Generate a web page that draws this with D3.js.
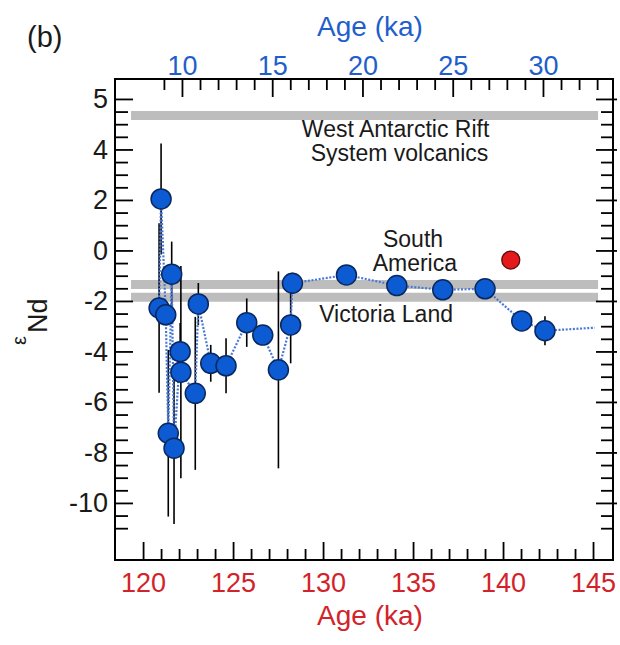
<!DOCTYPE html>
<html>
<head>
<meta charset="utf-8">
<script src="https://cdn.jsdelivr.net/npm/d3@7"></script>
<style>
  html, body { margin: 0; padding: 0; background: #ffffff; }
  svg { display: block; font-family: "Liberation Sans", Arial, Helvetica, sans-serif; }
</style>
</head>
<body>
<svg id="chart" width="620" height="645"></svg>
<script>
// ---------------- DATA ----------------
const ages   = [120.89, 121.0, 121.26, 121.4, 121.59, 121.72, 122.06, 122.1, 122.9, 123.07, 123.76, 124.61, 125.76, 126.65, 127.52, 128.2, 128.3, 131.3, 134.1, 136.65, 139.0, 141.04, 142.33];
const eNd    = [-2.28, 2.04, -2.55, -7.24, -0.94, -7.83, -4.01, -4.82, -5.66, -2.12, -4.47, -4.57, -2.86, -3.35, -4.73, -2.95, -1.30, -0.97, -1.39, -1.56, -1.52, -2.79, -3.18];
const eNdErr = [3.36, 2.2, 0, 3.3, 1.29, 3.0, 1.14, 4.2, 3.03, 0.83, 0.73, 1.09, 0.96, 0, 3.9, 1.52, 0.42, 0, 0, 0, 0, 0, 0.57];
const lineTailAge = [145.1];
const lineTailENd = [-3.06];

const southAmericaAge = [140.43];
const southAmericaENd = [-0.38];

const bandLevels = [5.34, -1.35, -1.85];
const bandAgeRange = [119.33, 145.28];

const bottomDomain = [118.44, 146.11];
const topDomain = [6.29, 33.88];
const yDomain = [-12.26, 6.79];

const bottomMajorTicks = [120, 125, 130, 135, 140, 145];
const bottomMinorTicks = d3.range(121, 145, 1).filter(v => v % 5 !== 0);
const topMajorTicks = [10, 15, 20, 25, 30];
const topMinorTicks = d3.range(9, 34, 1).filter(v => v % 5 !== 0);
const yTickValues = [-10, -8, -6, -4, -2, 0, 2, 4, 6];
const yTickLabels = ["-10", "-8", "-6", "-4", "-2", "0", "2", "4", "5"];
const yMinorTicks = d3.range(-11, 6, 0.5).filter(v => v % 2 !== 0);

const annotations = [
  {text: "West Antarctic Rift", age: 134.03, val: 4.5},
  {text: "System volcanics",    age: 134.25, val: 3.53},
  {text: "South",               age: 135.0, val: 0.12},
  {text: "America",             age: 135.1, val: -0.82},
  {text: "Victoria Land",       age: 133.5, val: -2.83}
];

// ---------------- LAYOUT ----------------
const L = 115, R = 613, T = 79, B = 560;
const svg = d3.select("#chart");
const FONT = "'Liberation Sans', Arial, Helvetica, sans-serif";
const RED = "#d2232a", BLUE = "#1f5fcc";

const x = d3.scaleLinear().domain(bottomDomain).range([L, R]);
const xTop = d3.scaleLinear().domain(topDomain).range([L, R]);
const y = d3.scaleLinear().domain(yDomain).range([B, T]);

// bands
svg.append("g").selectAll("line").data(bandLevels).join("line")
  .attr("x1", x(bandAgeRange[0])).attr("x2", x(bandAgeRange[1]))
  .attr("y1", d => y(d)).attr("y2", d => y(d))
  .attr("stroke", "#bdbdbd").attr("stroke-width", 9);

// annotations
svg.append("g").selectAll("text").data(annotations).join("text")
  .attr("x", d => x(d.age)).attr("y", d => y(d.val))
  .attr("text-anchor", "middle")
  .attr("font-size", 23).attr("fill", "#1a1a1a")
  .text(d => d.text);

// axes
function styleAxis(g) {
  g.select(".domain").remove();
  g.selectAll(".tick line").attr("stroke", "#000").attr("stroke-width", 1.8);
  g.selectAll(".tick text").attr("font-family", FONT);
}

// bottom
svg.append("g").attr("transform", `translate(0,${B})`)
  .call(d3.axisBottom(x).tickValues(bottomMajorTicks).tickSize(-18).tickPadding(13).tickFormat(d3.format("d")))
  .call(styleAxis)
  .call(g => g.selectAll(".tick text").attr("font-size", 27).attr("fill", RED));
svg.append("g").attr("transform", `translate(0,${B})`)
  .call(d3.axisBottom(x).tickValues(bottomMinorTicks).tickSize(-11).tickFormat(""))
  .call(styleAxis);

// top
svg.append("g").attr("transform", `translate(0,${T})`)
  .call(d3.axisTop(xTop).tickValues(topMajorTicks).tickSize(-18).tickPadding(4).tickFormat(d3.format("d")))
  .call(styleAxis)
  .call(g => g.selectAll(".tick text").attr("font-size", 27).attr("fill", BLUE));
svg.append("g").attr("transform", `translate(0,${T})`)
  .call(d3.axisTop(xTop).tickValues(topMinorTicks).tickSize(-11).tickFormat(""))
  .call(styleAxis);

// left
svg.append("g").attr("transform", `translate(${L},0)`)
  .call(d3.axisLeft(y).tickValues(yTickValues).tickSize(-18).tickPadding(7)
    .tickFormat((d, i) => yTickLabels[i]))
  .call(styleAxis)
  .call(g => g.selectAll(".tick text").attr("font-size", 27).attr("fill", "#1a1a1a"));
svg.append("g").attr("transform", `translate(${L},0)`)
  .call(d3.axisLeft(y).tickValues(yMinorTicks).tickSize(-13).tickFormat(""))
  .call(styleAxis);

// right
svg.append("g").attr("transform", `translate(${R},0)`)
  .call(d3.axisRight(y).tickValues(yTickValues).tickSize(-17).tickFormat(""))
  .call(styleAxis);
svg.append("g").attr("transform", `translate(${R},0)`)
  .call(d3.axisRight(y).tickValues(yTickValues).tickSize(4).tickFormat(""))
  .call(styleAxis);
svg.append("g").attr("transform", `translate(${R},0)`)
  .call(d3.axisRight(y).tickValues(yMinorTicks).tickSize(-12).tickFormat(""))
  .call(styleAxis);

// frame
svg.append("rect").attr("x", L).attr("y", T).attr("width", R - L).attr("height", B - T)
  .attr("fill", "none").attr("stroke", "#000").attr("stroke-width", 2);

// error bars
const pts = ages.map((a, i) => ({a, v: eNd[i], e: eNdErr[i]}));
svg.append("g").selectAll("line").data(pts.filter(d => d.e > 0)).join("line")
  .attr("x1", d => x(d.a)).attr("x2", d => x(d.a))
  .attr("y1", d => y(d.v + d.e)).attr("y2", d => y(d.v - d.e))
  .attr("stroke", "#000").attr("stroke-width", 1.6);

// dotted connecting line
const linePts = pts.concat(lineTailAge.map((a, i) => ({a, v: lineTailENd[i]})));
svg.append("path").datum(linePts)
  .attr("d", d3.line().x(d => x(d.a)).y(d => y(d.v)))
  .attr("fill", "none").attr("stroke", "#4a78d4").attr("stroke-width", 2.2)
  .attr("stroke-dasharray", "2,1.6");

// circles
svg.append("g").selectAll("circle").data(pts).join("circle")
  .attr("cx", d => x(d.a)).attr("cy", d => y(d.v)).attr("r", 10)
  .attr("fill", "#0c5bd3").attr("stroke", "#0a2860").attr("stroke-width", 1.5);

svg.append("g").selectAll("circle").data(southAmericaAge.map((a, i) => ({a, v: southAmericaENd[i]}))).join("circle")
  .attr("cx", d => x(d.a)).attr("cy", d => y(d.v)).attr("r", 9)
  .attr("fill", "#e3191c").attr("stroke", "#5a0d0d").attr("stroke-width", 1.3);

// titles
svg.append("text").attr("x", 370).attr("y", 625).attr("text-anchor", "middle")
  .attr("font-size", 28).attr("fill", RED).text("Age (ka)");
svg.append("text").attr("x", 370).attr("y", 36).attr("text-anchor", "middle")
  .attr("font-size", 28).attr("fill", BLUE).text("Age (ka)");
svg.append("text").attr("x", 27).attr("y", 47)
  .attr("font-size", 29).attr("fill", "#1a1a1a").text("(b)");

const yl = svg.append("text").attr("transform", "translate(47,345) rotate(-90)")
  .attr("fill", "#1a1a1a");
yl.append("tspan").attr("font-size", 20).attr("dy", -21).text("ε");
yl.append("tspan").attr("font-size", 27).attr("dy", 21).attr("dx", 3).text("Nd");
</script>
</body>
</html>
